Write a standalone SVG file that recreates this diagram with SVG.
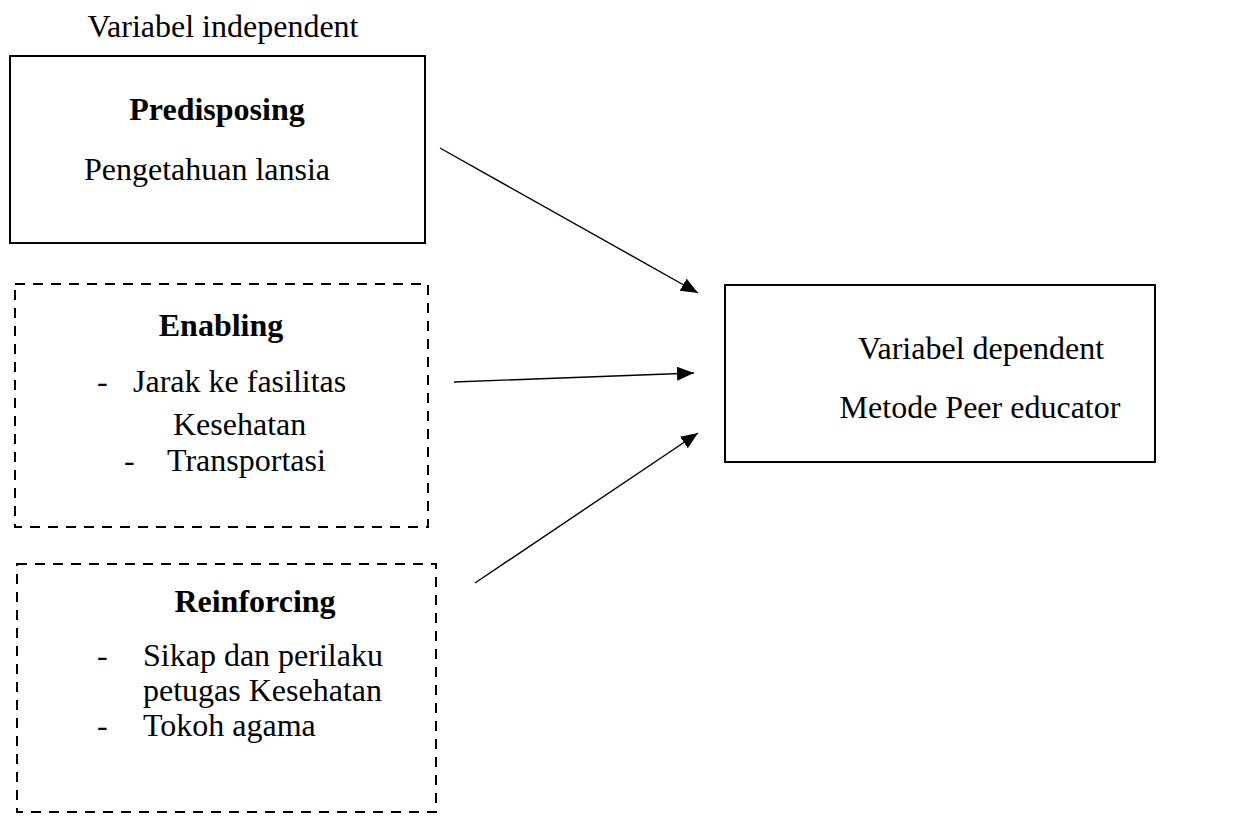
<svg xmlns="http://www.w3.org/2000/svg" width="1245" height="816" viewBox="0 0 1245 816">
  <style>
    text { font-family: "Liberation Serif", "Times New Roman", serif; font-size: 32px; fill: #000; }
    .b { font-weight: bold; }
    .c { text-anchor: middle; }
    .solid { fill: none; stroke: #000; stroke-width: 2; }
    .dash { fill: none; stroke: #000; stroke-width: 2; stroke-dasharray: 10 8; }
    .conn { stroke: #000; stroke-width: 1.4; fill: none; }
  </style>
  <defs>
    <marker id="arrow" markerUnits="userSpaceOnUse" markerWidth="18" markerHeight="14" refX="17" refY="7" orient="auto">
      <path d="M0,0 L17,7 L0,14 z" fill="#000"/>
    </marker>
  </defs>
  <rect width="1245" height="816" fill="#fff"/>

  <g id="title">
    <text class="c" x="223" y="37">Variabel independent</text>
  </g>

  <g id="predisposing">
    <rect class="solid" x="10" y="56" width="415" height="187"/>
    <text class="b c" x="217" y="120">Predisposing</text>
    <text class="c" x="207" y="180">Pengetahuan lansia</text>
  </g>

  <g id="enabling">
    <rect class="dash" x="15" y="284" width="413" height="243"/>
    <text class="b c" x="221" y="336">Enabling</text>
    <text x="97" y="392">-</text>
    <text x="133" y="392">Jarak ke fasilitas</text>
    <text x="173" y="435">Kesehatan</text>
    <text x="124" y="471">-</text>
    <text x="167" y="471">Transportasi</text>
  </g>

  <g id="reinforcing">
    <rect class="dash" x="17" y="564" width="419" height="248"/>
    <text class="b c" x="255" y="612">Reinforcing</text>
    <text x="97" y="666">-</text>
    <text x="143" y="666">Sikap dan perilaku</text>
    <text x="143" y="701">petugas Kesehatan</text>
    <text x="97" y="736">-</text>
    <text x="143" y="736">Tokoh agama</text>
  </g>

  <g id="dependent">
    <rect class="solid" x="725" y="285" width="430" height="177"/>
    <text class="c" x="981" y="359">Variabel dependent</text>
    <text class="c" x="980" y="418">Metode Peer educator</text>
  </g>

  <g id="connectors">
    <line class="conn" x1="440" y1="148" x2="698" y2="293" marker-end="url(#arrow)"/>
    <line class="conn" x1="454" y1="382" x2="694" y2="373" marker-end="url(#arrow)"/>
    <line class="conn" x1="475" y1="583" x2="698" y2="433" marker-end="url(#arrow)"/>
  </g>
</svg>
